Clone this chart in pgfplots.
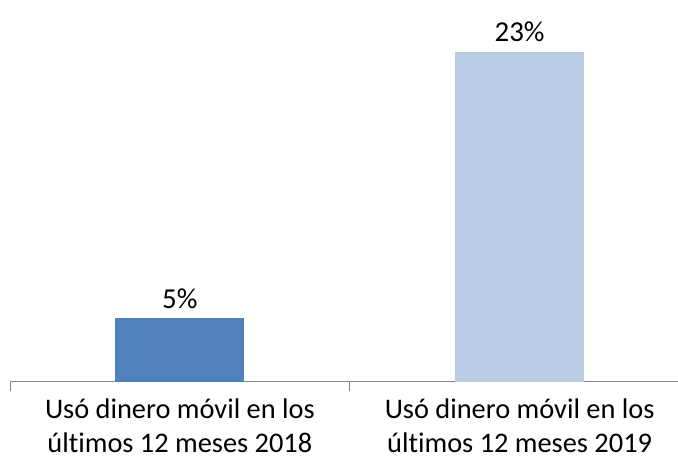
\documentclass[border=0pt]{standalone}
\usepackage{pgfplots}
\pgfplotsset{compat=1.18}
\usepackage{fontspec}
\setmainfont[Ligatures=NoCommon]{Carlito}
\definecolor{barA}{HTML}{4F81BD}
\definecolor{barB}{HTML}{B9CDE5}
\definecolor{axisgray}{HTML}{868686}
\begin{document}
\begin{tikzpicture}
\path (-10bp,-81bp) rectangle (668bp,382bp);
\begin{axis}[
  at={(0,0)}, anchor=south west,
  scale only axis,
  width=668bp, height=382bp,
  xmin=-0.5, xmax=1.465,
  ymin=0, ymax=26.6,
  axis x line=bottom,
  axis y line=none,
  axis line style={draw=axisgray, line width=0.8pt, -},
  xtick={0,1},
  xticklabels={{Usó dinero móvil en los\\últimos 12 meses 2018},{Usó dinero móvil en los\\últimos 12 meses 2019}},
  xticklabel style={align=center, font=\fontsize{28.5}{34}\selectfont, text=black, yshift=-14bp},
  major tick length=0pt,
  minor xtick={-0.5,0.5,1.5},
  minor tick length=9bp,
  minor tick style={draw=axisgray, line width=0.8pt},
  tick align=outside,
  ybar, bar width=129bp, bar shift=0pt,
  nodes near coords,
  point meta=explicit symbolic,
  every node near coord/.append style={font=\fontsize{29}{34}\selectfont, text=black, yshift=6bp},
  clip=false,
]
\addplot[fill=barA, draw=none] coordinates {(0,4.46) [5\%]};
\addplot[fill=barB, draw=none] coordinates {(1,23.0) [23\%]};
\end{axis}
\end{tikzpicture}
\end{document}
